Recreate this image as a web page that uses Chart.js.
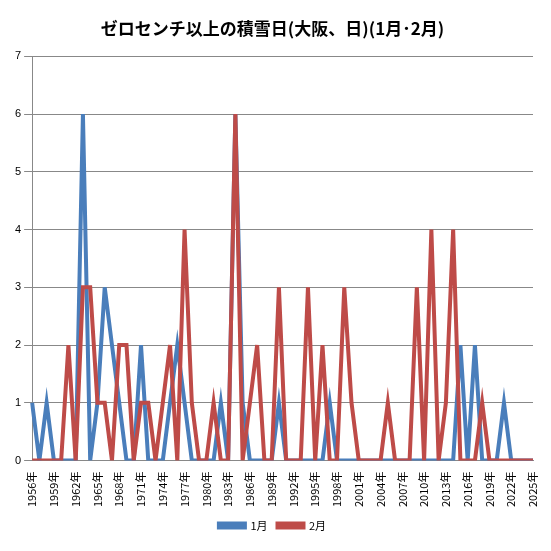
<!DOCTYPE html>
<html><head><meta charset="utf-8">
<script src="https://cdn.jsdelivr.net/npm/chart.js@4"></script>
<style>body{margin:0;background:#fff}#w{width:551px;height:551px;position:relative}</style>
</head><body><div id="w"><canvas id="c" width="551" height="551"></canvas></div>
<script>
const years=[];for(let y=1956;y<=2025;y++)years.push(y+'年');
const jan=[1,0,1,0,0,0,0,6,0,1,3,2,1,0,0,2,0,0,0,1,2,1,0,0,0,0,1,0,6,1,0,0,0,0,1,0,0,0,0,0,0,1,0,0,0,0,0,0,0,0,0,0,0,0,0,0,0,0,0,2,0,2,0,0,0,1,0,0,0,0];
const feb=[0,0,0,0,0,2,0,3,3,1,1,0,2,2,0,1,1,0,1,2,0,4,1,0,0,1,0,0,6,0,1,2,0,0,3,0,0,0,3,0,2,0,0,3,1,0,0,0,0,1,0,0,0,3,0,4,0,1,4,0,0,0,1,0,0,0,0,0,0,0];
new Chart(document.getElementById('c'),{type:'line',
data:{labels:years,datasets:[
{label:'1月',data:jan,order:2,borderColor:'#4a7ebb',backgroundColor:'#4a7ebb',borderWidth:4,pointRadius:0,tension:0},
{label:'2月',data:feb,order:1,borderColor:'#be4b48',backgroundColor:'#be4b48',borderWidth:4,pointRadius:0,tension:0}]},
options:{responsive:false,animation:false,
layout:{padding:{left:12,right:18,top:10,bottom:10}},
plugins:{title:{display:true,text:'ゼロセンチ以上の積雪日(大阪、日)(1月･2月)',font:{size:17,weight:'bold',family:'Noto Sans CJK JP'},color:'#000',padding:{top:8,bottom:18}},
legend:{position:'bottom',labels:{sort:(a,b)=>a.datasetIndex-b.datasetIndex,boxWidth:26,boxHeight:4,font:{size:11,family:'Noto Sans CJK JP'},color:'#000'}}},
scales:{x:{grid:{display:false},border:{color:'#888'},ticks:{autoSkip:false,maxRotation:90,minRotation:90,font:{size:11,family:'Noto Sans CJK JP'},color:'#000',callback:(v,i)=>i%3===0?years[i]:''}},
y:{min:0,max:7,ticks:{stepSize:1,font:{size:11},color:'#000'},grid:{color:'#888'},border:{color:'#888'}}}}});
</script></body></html>
